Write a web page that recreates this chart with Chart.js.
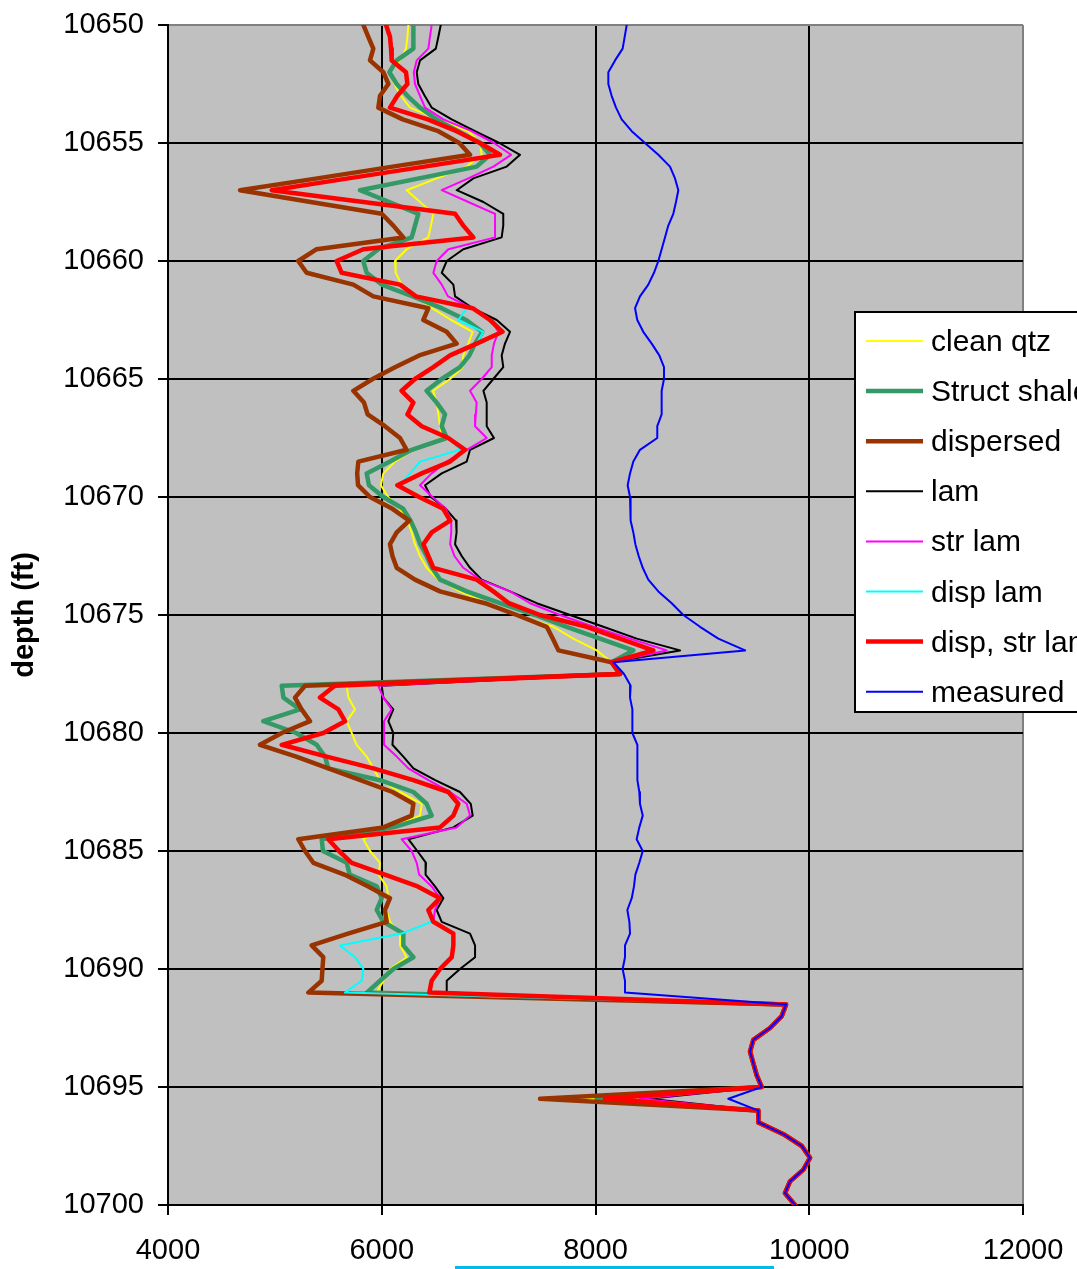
<!DOCTYPE html>
<html>
<head>
<meta charset="utf-8">
<title>depth log</title>
<script src="https://cdn.jsdelivr.net/npm/chart.js@4.4.1/dist/chart.umd.min.js"></script>
<style>
  html, body { margin: 0; padding: 0; background: #fff; overflow: hidden; }
  canvas { display: block; }
</style>
</head>
<body>
<canvas id="logChart" width="1077" height="1269"></canvas>
<script>
// depth samples, every half foot
const depthFt = [
  10650, 10650.5, 10651, 10651.5, 10652, 10652.5, 10653, 10653.5, 10654, 10654.5,
  10655, 10655.5, 10656, 10656.5, 10657, 10657.5, 10658, 10658.5, 10659, 10659.5,
  10660, 10660.5, 10661, 10661.5, 10662, 10662.5, 10663, 10663.5, 10664, 10664.5,
  10665, 10665.5, 10666, 10666.5, 10667, 10667.5, 10668, 10668.5, 10669, 10669.5,
  10670, 10670.5, 10671, 10671.5, 10672, 10672.5, 10673, 10673.5, 10674, 10674.5,
  10675, 10675.5, 10676, 10676.5, 10677, 10677.5, 10678, 10678.5, 10679, 10679.5,
  10680, 10680.5, 10681, 10681.5, 10682, 10682.5, 10683, 10683.5, 10684, 10684.5,
  10685, 10685.5, 10686, 10686.5, 10687, 10687.5, 10688, 10688.5, 10689, 10689.5,
  10690, 10690.5, 10691, 10691.5, 10692, 10692.5, 10693, 10693.5, 10694, 10694.5,
  10695, 10695.5, 10696, 10696.5, 10697, 10697.5, 10698, 10698.5, 10699, 10699.5,
  10700
];

const cleanQtz = [
  6249, 6240, 6227, 6171, 6071, 6118, 6180, 6265, 6530, 6810,
  6919, 6935, 6795, 6514, 6233, 6358, 6483, 6460, 6436, 6233,
  6124, 6130, 6186, 6311, 6470, 6650, 6850, 6810, 6763, 6757,
  6640, 6480, 6514, 6530, 6545, 6561, 6296, 6124, 6015, 5992,
  6060, 6165, 6240, 6280, 6311, 6358, 6420, 6530, 6732, 6982,
  7263, 7606, 7793, 8011, 8151, 8229, 5672, 5688, 5750, 5672,
  5719, 5765, 5859, 5921, 5984, 6171, 6374, 6358, 6077, 5828,
  5890, 5984, 5970, 6046, 6062, 6046, 6077, 6171, 6171, 6233,
  6077, 6015, 5953, 9783, 9742, 9633, 9477, 9446, 9477, 9508,
  9555, 7911, 9524, 9524, 9758, 9930, 10007, 9945, 9820, 9773,
  9867
];

const structShale = [
  6296, 6296, 6296, 6140, 6071, 6140, 6240, 6358, 6514, 6716,
  6919, 7013, 6888, 6349, 5796, 6071, 6342, 6311, 6280, 5968,
  5827, 5859, 5999, 6290, 6560, 6790, 6940, 6873, 6820, 6732,
  6561, 6420, 6514, 6592, 6561, 6608, 6280, 6077, 5859, 5880,
  6015, 6200, 6270, 6320, 6360, 6420, 6470, 6545, 6795, 7106,
  7434, 7730, 8042, 8354, 8151, 8229, 5064, 5080, 5235, 4892,
  5200, 5391, 5469, 5500, 5984, 6296, 6420, 6467, 6108, 5438,
  5450, 5672, 5700, 5953, 6000, 5953, 6015, 6202, 6202, 6296,
  6108, 5984, 5860, 9783, 9742, 9633, 9477, 9446, 9477, 9508,
  9555, 8011, 9524, 9524, 9758, 9930, 10007, 9945, 9820, 9773,
  9867
];

const dispersed = [
  5828, 5874, 5921, 5890, 6015, 6062, 5984, 5968, 6196, 6530,
  6726, 6826, 6102, 5397, 4674, 5335, 6000, 6108, 6202, 5391,
  5219, 5297, 5734, 5921, 6436, 6389, 6607, 6701, 6350, 6124,
  5915, 5734, 5834, 5868, 6030, 6171, 6233, 5781, 5770, 5778,
  5890, 6100, 6257, 6140, 6077, 6100, 6140, 6311, 6545, 6966,
  7263, 7544, 7600, 7653, 8151, 8229, 5282, 5188, 5250, 5329,
  5064, 4861, 5200, 5500, 5800, 6100, 6296, 6280, 6015, 5219,
  5282, 5360, 5650, 5874, 6077, 6030, 6046, 5684, 5344, 5453,
  5445, 5438, 5313, 9783, 9742, 9633, 9477, 9446, 9477, 9508,
  9555, 7481, 9524, 9524, 9758, 9930, 10007, 9945, 9820, 9773,
  9867
];

const lam = [
  6552, 6530, 6506, 6358, 6327, 6342, 6402, 6467, 6654, 6873,
  7100, 7294, 7169, 6857, 6701, 6951, 7137, 7137, 7122, 6763,
  6608, 6561, 6670, 6686, 6850, 7076, 7200, 7153, 7122, 7137,
  7044, 6951, 6982, 6982, 6982, 7050, 6826, 6795, 6561, 6405,
  6460, 6600, 6695, 6700, 6686, 6748, 6826, 6935, 7200, 7450,
  7762, 8073, 8386, 8791, 8151, 8229, 6000, 6015, 6108, 6062,
  6108, 6100, 6202, 6296, 6500, 6732, 6833, 6851, 6670, 6249,
  6333, 6414, 6410, 6498, 6576, 6514, 6561, 6826, 6873, 6873,
  6732, 6608, 6608, 9783, 9742, 9633, 9477, 9446, 9477, 9508,
  9555, 8500, 9524, 9524, 9758, 9930, 10007, 9945, 9820, 9773,
  9867
];

const strLam = [
  6467, 6451, 6436, 6327, 6300, 6311, 6358, 6405, 6576, 6841,
  7050, 7210, 7044, 6810, 6561, 6810, 7060, 7060, 7060, 6623,
  6514, 6483, 6561, 6620, 6840, 7020, 7091, 7050, 7029, 7029,
  6935, 6826, 6888, 6880, 6873, 6982, 6795, 6607, 6467, 6358,
  6475, 6600, 6650, 6650, 6640, 6680, 6763, 6920, 7200, 7387,
  7668, 7980, 8323, 8666, 8151, 8229, 5968, 6015, 6093, 6021,
  6021, 6021, 6140, 6249, 6436, 6639, 6795, 6826, 6700, 6186,
  6280, 6327, 6350, 6467, 6545, 6498, 6483, 6670, 6670, 6655,
  6545, 6467, 6445, 9783, 9742, 9633, 9477, 9446, 9477, 9508,
  9555, 8416, 9524, 9524, 9758, 9930, 10007, 9945, 9820, 9773,
  9867
];

const dispLam = [
  6040, 6077, 6087, 6093, 6227, 6240, 6146, 6077, 6430, 6700,
  6920, 7106, 6400, 5687, 4970, 5828, 6686, 6763, 6857, 5827,
  5578, 5625, 6171, 6320, 6795, 6716, 6950, 6888, 6639, 6483,
  6311, 6186, 6296, 6240, 6374, 6623, 6732, 6358, 6265, 6171,
  6350, 6575, 6640, 6467, 6389, 6436, 6483, 6888, 7044, 7190,
  7481, 7918, 8229, 8541, 8151, 8229, 5560, 5422, 5594, 5656,
  5453, 5064, 5485, 5921, 6295, 6623, 6716, 6670, 6545, 5500,
  5600, 5719, 6030, 6336, 6545, 6436, 6467, 6186, 5609, 5750,
  5828, 5812, 5656, 9783, 9742, 9633, 9477, 9446, 9477, 9508,
  9555, 8089, 9524, 9524, 9758, 9930, 10007, 9945, 9820, 9773,
  9867
];

const dispStrLam = [
  6040, 6077, 6087, 6093, 6227, 6240, 6146, 6077, 6430, 6700,
  6920, 7106, 6400, 5687, 4970, 5828, 6686, 6763, 6857, 5827,
  5578, 5625, 6171, 6320, 6850, 7013, 7130, 6888, 6639, 6483,
  6311, 6186, 6296, 6240, 6374, 6623, 6780, 6639, 6374, 6146,
  6350, 6575, 6640, 6467, 6389, 6436, 6483, 6888, 7044, 7190,
  7481, 7918, 8229, 8541, 8151, 8229, 5560, 5422, 5594, 5656,
  5453, 5064, 5485, 5921, 6295, 6623, 6716, 6670, 6545, 5500,
  5600, 5719, 6030, 6336, 6545, 6436, 6483, 6670, 6670, 6655,
  6545, 6467, 6445, 9783, 9742, 9633, 9477, 9446, 9477, 9508,
  9555, 8089, 9524, 9524, 9758, 9930, 10007, 9945, 9820, 9773,
  9867
];

const measured = [
  8292, 8273, 8254, 8183, 8120, 8120, 8151, 8192, 8245, 8339,
  8463, 8588, 8697, 8744, 8775, 8753, 8728, 8681, 8650, 8619,
  8588, 8547, 8494, 8416, 8370, 8391, 8447, 8526, 8597, 8641,
  8641, 8619, 8619, 8619, 8578, 8578, 8416, 8354, 8323, 8301,
  8323, 8327, 8330, 8354, 8373, 8404, 8442, 8494, 8588, 8713,
  8822, 8978, 9149, 9400, 8167, 8267, 8329, 8323, 8345, 8345,
  8345, 8392, 8392, 8392, 8392, 8410, 8416, 8442, 8410, 8385,
  8442, 8410, 8373, 8360, 8339, 8298, 8317, 8323, 8276, 8276,
  8254, 8276, 8276, 9783, 9742, 9633, 9477, 9446, 9477, 9508,
  9555, 9243, 9524, 9524, 9758, 9930, 10007, 9945, 9820, 9773,
  9867
];

const xTicks = [4000, 6000, 8000, 10000, 12000];
const yTicks = [10650, 10655, 10660, 10665, 10670, 10675, 10680, 10685, 10690, 10695, 10700];

const FONT = "'Liberation Sans', Arial, sans-serif";

// build one line dataset, depth on y, value on x
function makeSeries(label, values, color, width, order) {
  return {
    label: label,
    data: values.map((v, i) => ({ x: v, y: depthFt[i] })),
    borderColor: color,
    backgroundColor: color,
    borderWidth: width,
    pointRadius: 0,
    pointHoverRadius: 0,
    tension: 0,
    fill: false,
    borderJoinStyle: 'round',
    borderCapStyle: 'round',
    order: order
  };
}

// grey plot area like the spreadsheet chart
const plotBackground = {
  id: 'plotBackground',
  beforeDraw(chart) {
    const { ctx, chartArea } = chart;
    ctx.save();
    ctx.fillStyle = '#c0c0c0';
    ctx.fillRect(chartArea.left, chartArea.top, chartArea.right - chartArea.left, chartArea.bottom - chartArea.top);
    ctx.restore();
  }
};

// boxed legend sitting over the right side of the plot
const boxLegend = {
  id: 'boxLegend',
  afterDraw(chart) {
    const ctx = chart.ctx;
    const left = 854, top = 311, height = 402;
    ctx.save();
    ctx.fillStyle = '#ffffff';
    ctx.fillRect(left, top, 300, height);
    ctx.strokeStyle = '#000000';
    ctx.lineWidth = 2;
    ctx.strokeRect(left + 1, top + 1, 300, height - 2);

    ctx.font = '30px ' + FONT;
    ctx.textBaseline = 'alphabetic';
    ctx.textAlign = 'left';
    chart.data.datasets.forEach((ds, i) => {
      const y = top + 30 + i * 50.1;
      ctx.strokeStyle = ds.borderColor;
      ctx.lineWidth = ds.borderWidth;
      ctx.lineCap = 'butt';
      ctx.beginPath();
      ctx.moveTo(866, y);
      ctx.lineTo(923, y);
      ctx.stroke();
      ctx.fillStyle = '#000000';
      ctx.fillText(ds.label, 931, y + 10);
    });

    // stray selection line under the x labels
    ctx.strokeStyle = '#00bceb';
    ctx.lineWidth = 3;
    ctx.beginPath();
    ctx.moveTo(455, 1267.5);
    ctx.lineTo(774, 1267.5);
    ctx.stroke();
    ctx.restore();
  }
};

const ctx = document.getElementById('logChart').getContext('2d');

new Chart(ctx, {
  type: 'line',
  data: {
    datasets: [
      makeSeries('clean qtz', cleanQtz, '#ffff00', 2, 8),
      makeSeries('Struct shale', structShale, '#339966', 4.5, 7),
      makeSeries('dispersed', dispersed, '#993300', 4.5, 6),
      makeSeries('lam', lam, '#000000', 2, 5),
      makeSeries('str lam', strLam, '#ff00ff', 2, 4),
      makeSeries('disp lam', dispLam, '#00ffff', 2, 3),
      makeSeries('disp, str lam', dispStrLam, '#ff0000', 4.5, 2),
      makeSeries('measured', measured, '#0000ff', 2, 1)
    ]
  },
  options: {
    responsive: false,
    animation: false,
    indexAxis: 'y',
    layout: { padding: { top: 25, right: 54, left: 0, bottom: 0 } },
    plugins: {
      legend: { display: false },
      tooltip: { enabled: false }
    },
    scales: {
      x: {
        type: 'linear',
        position: 'bottom',
        min: xTicks[0],
        max: xTicks[xTicks.length - 1],
        afterBuildTicks: s => { s.ticks = xTicks.map(v => ({ value: v })); },
        // fixed axis band, and no extra room for the end labels
        afterFit: s => { s.height = 64; s.paddingLeft = 0; s.paddingRight = 0; },
        ticks: {
          color: '#000',
          font: { family: FONT, size: 29 },
          padding: 19,
          maxRotation: 0,
          callback: v => String(v)
        },
        grid: {
          color: c => (c.tick && c.tick.value === 12000 ? '#808080' : '#000000'),
          lineWidth: 2,
          tickLength: 10,
          tickColor: '#000000',
          tickWidth: 2
        },
        border: { color: '#000000', width: 2 }
      },
      y: {
        type: 'linear',
        position: 'left',
        reverse: true,
        min: yTicks[0],
        max: yTicks[yTicks.length - 1],
        afterBuildTicks: s => { s.ticks = yTicks.map(v => ({ value: v })); },
        afterFit: s => { s.width = 168; s.paddingTop = 0; s.paddingBottom = 0; },
        ticks: {
          color: '#000',
          font: { family: FONT, size: 29 },
          padding: 14,
          callback: v => String(v)
        },
        grid: {
          color: c => (c.tick && c.tick.value === 10650 ? '#808080' : '#000000'),
          lineWidth: 2,
          tickLength: 10,
          tickColor: '#000000',
          tickWidth: 2
        },
        border: { color: '#000000', width: 2 },
        title: {
          display: true,
          text: 'depth (ft)',
          color: '#000',
          font: { family: FONT, size: 29, weight: 'bold' },
          padding: { top: 8, bottom: 0 }
        }
      }
    }
  },
  plugins: [plotBackground, boxLegend]
});
</script>
</body>
</html>
